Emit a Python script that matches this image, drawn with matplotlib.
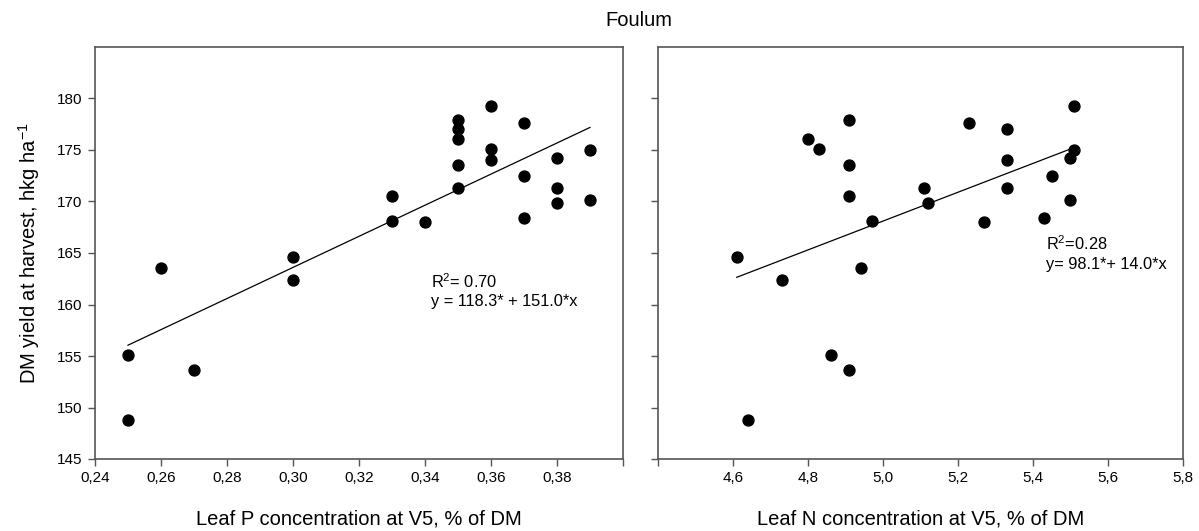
import numpy as np
import matplotlib
matplotlib.use("Agg")
import matplotlib.pyplot as plt

plt.rcParams['font.family'] = ['Liberation Sans', 'DejaVu Sans']
plt.rcParams['mathtext.fontset'] = 'custom'
plt.rcParams['mathtext.rm'] = 'Liberation Sans'
plt.rcParams['mathtext.it'] = 'Liberation Sans:italic'
plt.rcParams['mathtext.default'] = 'regular'

# leaf P concentration (left panel)
p_conc = [0.25, 0.25, 0.26, 0.27, 0.30, 0.30, 0.33, 0.33, 0.34,
          0.35, 0.35, 0.35, 0.35, 0.35, 0.36, 0.36, 0.36,
          0.37, 0.37, 0.37, 0.38, 0.38, 0.38, 0.39, 0.39]
p_yield = [155.1, 148.8, 163.5, 153.6, 164.6, 162.4, 170.5, 168.1, 168.0,
           177.9, 177.0, 176.1, 173.5, 171.3, 179.3, 175.1, 174.0,
           177.6, 172.5, 168.4, 174.2, 171.3, 169.9, 175.0, 170.1]
p_fit = (118.3, 151.0)

# leaf N concentration (right panel)
n_conc = [4.61, 4.64, 4.73, 4.80, 4.83, 4.86, 4.91, 4.91, 4.91, 4.91,
          4.94, 4.97, 5.11, 5.12, 5.23, 5.27, 5.33, 5.33, 5.33,
          5.43, 5.45, 5.50, 5.50, 5.51, 5.51]
n_yield = [164.6, 148.8, 162.4, 176.1, 175.1, 155.1, 177.9, 173.5, 170.5, 153.6,
           163.5, 168.1, 171.3, 169.9, 177.6, 168.0, 177.0, 174.0, 171.3,
           168.4, 172.5, 174.2, 170.1, 179.3, 175.0]
n_fit = (98.1, 14.0)

p_ticks = [0.24, 0.26, 0.28, 0.30, 0.32, 0.34, 0.36, 0.38, 0.40]
p_labels = ['0,24', '0,26', '0,28', '0,30', '0,32', '0,34', '0,36', '0,38', '']
n_ticks = [4.4, 4.6, 4.8, 5.0, 5.2, 5.4, 5.6, 5.8]
n_labels = ['', '4,6', '4,8', '5,0', '5,2', '5,4', '5,6', '5,8']
y_ticks = [145, 150, 155, 160, 165, 170, 175, 180]

W, H = 1199, 531
fig = plt.figure(figsize=(W / 100, H / 100), dpi=100)
ax1 = fig.add_axes([95 / W, 1 - 459 / H, (623 - 95) / W, (459 - 47) / H])
ax2 = fig.add_axes([658 / W, 1 - 459 / H, (1183 - 658) / W, (459 - 47) / H])

frame = '#555555'


def style(ax):
    for s in ax.spines.values():
        s.set_color(frame)
        s.set_linewidth(1.2)
    ax.tick_params(direction='out', length=5, width=1, color=frame,
                   labelsize=11, pad=4)
    ax.set_ylim(145, 185)
    ax.set_yticks(y_ticks)


style(ax1)
ax1.scatter(p_conc, p_yield, s=62, color='black', zorder=3)
xs = np.array([min(p_conc), max(p_conc)])
ax1.plot(xs, p_fit[0] + p_fit[1] * xs, color='black', lw=0.9)
ax1.set_xlim(0.24, 0.40)
ax1.set_xticks(p_ticks)
ax1.set_xticklabels(p_labels)
ax1.set_xlabel('Leaf P concentration at V5, % of DM', fontsize=14.5, labelpad=17)
ax1.set_ylabel('DM yield at harvest, hkg ha$^{-1}$', fontsize=14.5, labelpad=11)
ax1.text(0.3417, 162.2, 'R$^{2}$= 0.70', fontsize=11.8, va='center')
ax1.text(0.3417, 160.3, 'y = 118.3* + 151.0*x', fontsize=11.8, va='center')

style(ax2)
ax2.scatter(n_conc, n_yield, s=62, color='black', zorder=3)
xs = np.array([min(n_conc), max(n_conc)])
ax2.plot(xs, n_fit[0] + n_fit[1] * xs, color='black', lw=0.9)
ax2.set_xlim(4.4, 5.8)
ax2.set_xticks(n_ticks)
ax2.set_xticklabels(n_labels)
ax2.set_yticklabels([])
ax2.set_xlabel('Leaf N concentration at V5, % of DM', fontsize=14.5, labelpad=17)
ax2.text(5.436, 165.9, 'R$^{2}$=0.28', fontsize=11.8, va='center')
ax2.text(5.436, 163.9, 'y= 98.1*+ 14.0*x', fontsize=11.8, va='center')

fig.text(639 / W, 1 - 20 / H, 'Foulum', fontsize=14.5, ha='center', va='center')

fig.savefig('out.png', dpi=100)
